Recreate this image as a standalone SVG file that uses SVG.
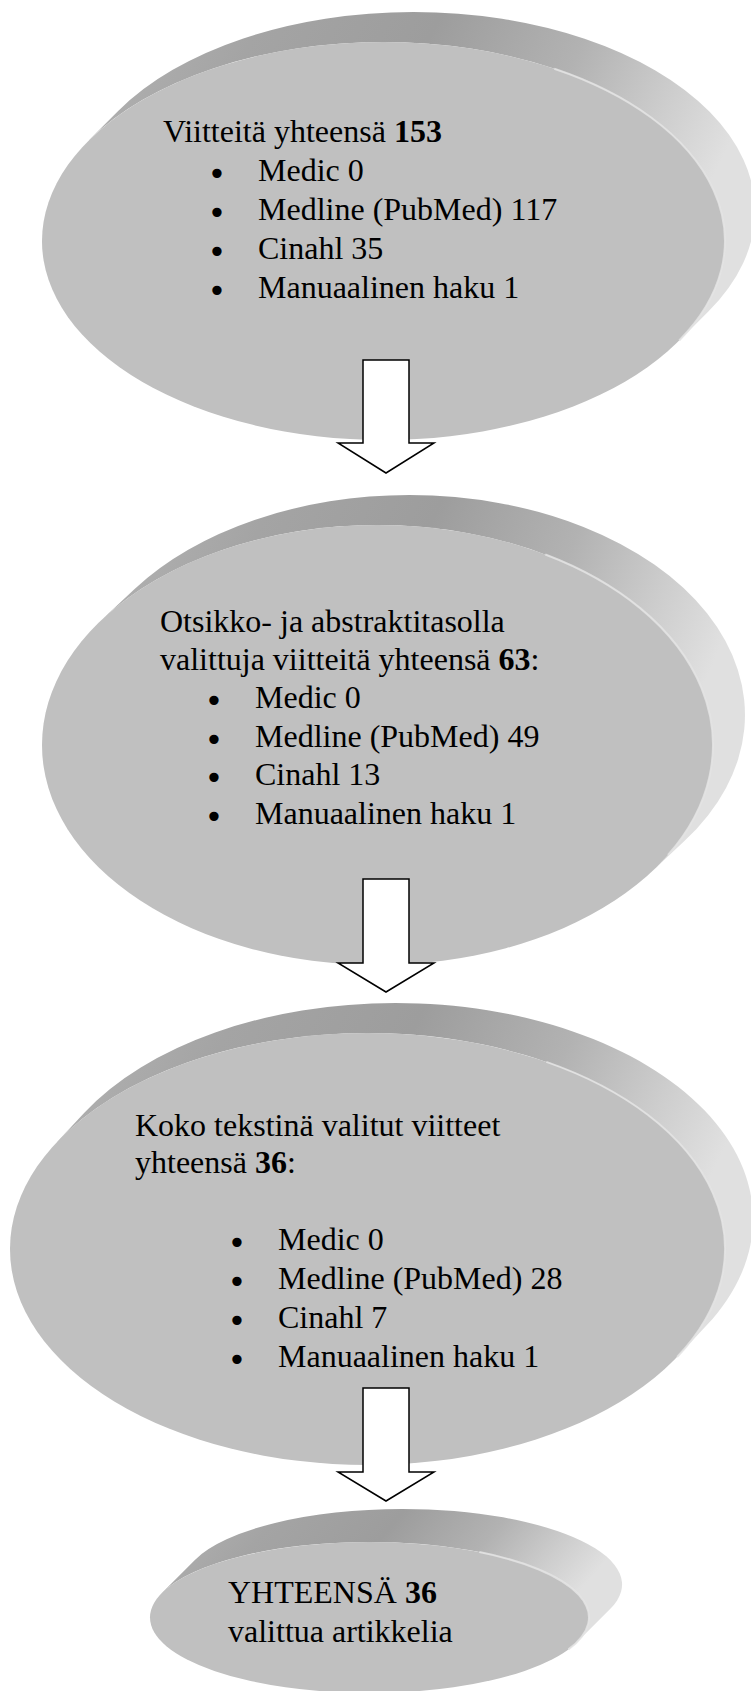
<svg xmlns="http://www.w3.org/2000/svg" width="751" height="1691" viewBox="0 0 751 1691">
<defs>
<linearGradient id="side" x1="0" y1="0" x2="1" y2="0.25">
<stop offset="0" stop-color="#b4b4b4"/>
<stop offset="0.25" stop-color="#a4a4a4"/>
<stop offset="0.5" stop-color="#9d9d9d"/>
<stop offset="0.72" stop-color="#b2b2b2"/>
<stop offset="0.88" stop-color="#cdcdcd"/>
<stop offset="1" stop-color="#e0e0e0"/>
</linearGradient>
</defs>
<style>
.side{fill:url(#side);stroke:none}
.face{fill:#c0c0c0;stroke:none}
.hl{fill:none;stroke:#e4e4e4;stroke-width:2;opacity:0.85}
.t{font-family:"Liberation Serif","Times New Roman",serif;font-size:32px;fill:#000}
.b{font-weight:bold}
.bul{font-family:"DejaVu Sans",sans-serif;font-size:32px;fill:#000;text-anchor:middle}
.arrow{fill:#fff;stroke:#000;stroke-width:1.5;stroke-linejoin:miter}
</style>
<rect width="751" height="1691" fill="#fff"/>

<g id="node1">
<path class="side" d="M88.4,140.8 L118.4,110.8 A341.5,199 0 0 1 413.5,12 A341.5,199 0 0 1 708.6,311.2 L678.6,341.2 A341.5,199 0 0 0 383.5,42 A341.5,199 0 0 0 88.4,140.8 Z"/>
<ellipse class="face" cx="383.5" cy="241" rx="341.5" ry="199"/>
<path class="hl" d="M554.3,68.7 A341.5,199 0 0 1 679.2,340.5"/>
<text class="t" x="163" y="142">Viitteitä yhteensä <tspan class="b">153</tspan></text>
<text class="bul" x="217" y="185">•</text>
<text class="bul" x="217" y="224">•</text>
<text class="bul" x="217" y="263">•</text>
<text class="bul" x="217" y="302">•</text>
<text class="t" x="258" y="181">Medic 0</text>
<text class="t" x="258" y="220">Medline (PubMed) 117</text>
<text class="t" x="258" y="259">Cinahl 35</text>
<text class="t" x="258" y="298">Manuaalinen haku 1</text>
</g>

<g id="node2">
<path class="side" d="M102.6,618.9 L134.6,588.9 A335.5,220 0 0 1 409.5,495 A335.5,220 0 0 1 684.4,841.1 L652.4,871.1 A335.5,220 0 0 0 377.5,525 A335.5,220 0 0 0 102.6,618.9 Z"/>
<ellipse class="face" cx="377.5" cy="745" rx="335.5" ry="220"/>
<path class="hl" d="M545.3,554.5 A335.5,220 0 0 1 668,855"/>
<text class="t" x="160" y="632">Otsikko- ja abstraktitasolla</text>
<text class="t" x="160" y="670">valittuja viitteitä yhteensä <tspan class="b">63</tspan>:</text>
<text class="bul" x="214" y="712">•</text>
<text class="bul" x="214" y="751">•</text>
<text class="bul" x="214" y="789">•</text>
<text class="bul" x="214" y="828">•</text>
<text class="t" x="255" y="708">Medic 0</text>
<text class="t" x="255" y="747">Medline (PubMed) 49</text>
<text class="t" x="255" y="785">Cinahl 13</text>
<text class="t" x="255" y="824">Manuaalinen haku 1</text>
</g>

<g id="node3">
<path class="side" d="M56.1,1142.9 L84.1,1112.9 A357.5,216 0 0 1 395.5,1003 A357.5,216 0 0 1 706.9,1325.1 L678.9,1355.1 A357.5,216 0 0 0 367.5,1033 A357.5,216 0 0 0 56.1,1142.9 Z"/>
<ellipse class="face" cx="367.5" cy="1249" rx="357.5" ry="216"/>
<path class="hl" d="M546.3,1061.9 A357.5,216 0 0 1 677.1,1357"/>
<text class="t" x="135" y="1136">Koko tekstinä valitut viitteet</text>
<text class="t" x="135" y="1173">yhteensä <tspan class="b">36</tspan>:</text>
<text class="bul" x="237" y="1254">•</text>
<text class="bul" x="237" y="1293">•</text>
<text class="bul" x="237" y="1332">•</text>
<text class="bul" x="237" y="1371">•</text>
<text class="t" x="278" y="1250">Medic 0</text>
<text class="t" x="278" y="1289">Medline (PubMed) 28</text>
<text class="t" x="278" y="1328">Cinahl 7</text>
<text class="t" x="278" y="1367">Manuaalinen haku 1</text>
</g>

<g id="node4">
<path class="side" d="M161.9,1592.9 L194.9,1559.9 A219.5,75.5 0 0 1 402.5,1509 A219.5,75.5 0 0 1 610.1,1609.1 L577.1,1642.1 A219.5,75.5 0 0 0 369.5,1542 A219.5,75.5 0 0 0 161.9,1592.9 Z"/>
<ellipse class="face" cx="369.5" cy="1617.5" rx="219.5" ry="75.5"/>
<path class="hl" d="M479.3,1552.1 A219.5,75.5 0 0 1 568.4,1649.4"/>
<text class="t" x="228" y="1603">YHTEENSÄ <tspan class="b">36</tspan></text>
<text class="t" x="228" y="1642">valittua artikkelia</text>
</g>

<g id="connectors">
<path class="arrow" d="M363,360 H409 V443 H434 L386,473 L338,443 H363 Z"/>
<path class="arrow" d="M363,879 H409 V963 H434 L386,992 L338,963 H363 Z"/>
<path class="arrow" d="M363,1388 H409 V1472 H434 L386,1501 L338,1472 H363 Z"/>
</g>
</svg>
